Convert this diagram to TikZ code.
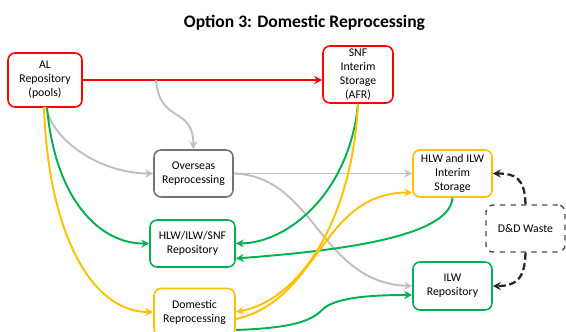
\documentclass[tikz,border=0pt]{standalone}
\usepackage{fontspec}
\setmainfont{Carlito}
\usetikzlibrary{arrows.meta}

\definecolor{optred}{RGB}{255,0,0}
\definecolor{optgreen}{RGB}{0,176,80}
\definecolor{optyellow}{RGB}{255,192,0}
\definecolor{optgray}{RGB}{191,191,191}

\tikzset{
  box/.style={draw, rounded corners=4pt, line width=0.9pt, align=center, inner sep=1pt,
    minimum width=1.58cm, minimum height=0.94cm, font=\fontsize{6.7}{8}\selectfont},
  flow/.style={->, line width=1.1pt},
  ddflow/.style={->, line width=1.3pt, dash pattern=on 4pt off 2pt, draw=black!85}
}

\begin{document}
\begin{tikzpicture}[x=0.02cm, y=-0.02cm, >={Stealth[length=4.5pt,width=4.5pt]}]
    \useasboundingbox (0,0) rectangle (566,332);

    % Title
    \node[font=\bfseries\fontsize{10}{12}\selectfont] (title) at (304.5,23) {Option 3: Domestic Reprocessing};

    % Boxes
    \node[box, draw=optred, minimum width=1.48cm, minimum height=1.08cm] (alrepo) at (45,80) {AL\\Repository\\(pools)};
    \node[box, draw=optred, minimum width=1.40cm, minimum height=1.14cm] (snf) at (358,74.5) {SNF\\Interim\\Storage\\(AFR)};
    \node[box, draw=black!55] (overseas) at (193.5,173.5) {Overseas\\Reprocessing};
    \node[box, draw=optgreen, minimum width=1.70cm] (hlwrepo) at (192.5,243.5) {HLW/ILW/SNF\\Repository};
    \node[box, draw=optyellow, minimum width=1.62cm] (domestic) at (194.5,312) {Domestic\\Reprocessing};
    \node[box, draw=optyellow] (interim) at (452.5,173.5) {HLW and ILW\\Interim\\Storage};
    \node[box, draw=black!70, dashed, line width=0.8pt] (ddwaste) at (525.5,228.5) {D\&D Waste};
    \node[box, draw=optgreen, minimum height=0.96cm] (ilwrepo) at (452.5,286) {ILW\\Repository};

    % AL repository to SNF storage
    \draw[flow, optred] (alrepo.east) -- (alrepo.east -| snf.west);
    \coordinate (split) at (156,80);

    % Grey flows (overseas reprocessing)
    \draw[flow, optgray] (split) .. controls (160,125) and (193,105) .. (overseas.north);
    \draw[flow, optgray] (46,107) .. controls (52,140) and (100,173.5) .. (overseas.west);
    \draw[flow, optgray] (overseas.east) -- (interim.west);
    \draw[flow, optgray] (overseas.east) .. controls (315,176) and (320,283) .. (ilwrepo.west);

    % Green flows (to repositories)
    \draw[flow, optgreen] (47,107) .. controls (55,200) and (100,244) .. (hlwrepo.west);
    \draw[flow, optgreen] (snf.south) .. controls (350,190) and (290,243) .. (hlwrepo.east);
    \draw[flow, optgreen] (interim.south) .. controls (450,240) and (320,252) .. ([yshift=-0.3cm]hlwrepo.east);
    \draw[flow, optgreen] ([yshift=-0.36cm]domestic.east) .. controls (290,328) and (310,322) .. (322,310)
        .. controls (335,296) and (380,295) .. ([yshift=-0.18cm]ilwrepo.west);

    % Yellow flows (domestic reprocessing)
    \draw[flow, optyellow] (44,107) .. controls (48,230) and (90,312) .. (domestic.west);
    \draw[flow, optyellow] (snf.south) .. controls (352,220) and (300,300) .. (domestic.east);
    \draw[flow, optyellow] ([yshift=-0.14cm]domestic.east) .. controls (320,300) and (320,193) .. ([yshift=-0.38cm]interim.west);

    % D&D waste
    \draw[ddflow] (ddwaste.north) .. controls (525,178) and (515,173.5) .. (interim.east);
    \draw[ddflow] (ddwaste.south) .. controls (525,280) and (515,286) .. (ilwrepo.east);
\end{tikzpicture}
\end{document}
